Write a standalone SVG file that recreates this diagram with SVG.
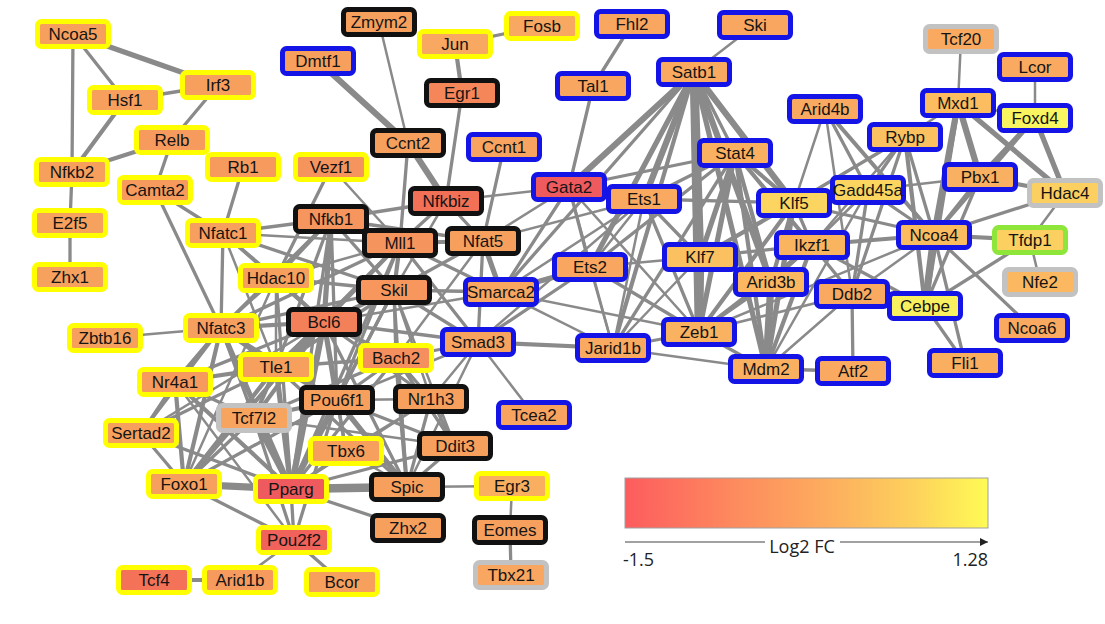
<svg xmlns="http://www.w3.org/2000/svg" width="1105" height="624" viewBox="0 0 1105 624">
<style>
.edges line{stroke:#8a8a8a;stroke-linecap:round}
.e2{stroke-width:2.5}.e3{stroke-width:3.3}.e4{stroke-width:4.2}.e5{stroke-width:5.2}.e6{stroke-width:6.2}.e7{stroke-width:7.2}.e8{stroke-width:8.5}
.n rect{stroke-width:5}
.y rect{stroke:#ffff00}.k rect{stroke:#111111}.b rect{stroke:#1414e6}.g rect{stroke:#c2c2c2}.gr rect{stroke:#8fe63a}
.n text{font-family:"Liberation Sans",Arial,sans-serif;font-size:17px;text-anchor:middle;fill:#151515}
.lg{font-family:"Open Sans","Liberation Sans",sans-serif;font-size:18px;fill:#222}
</style>
<defs>
<linearGradient id="fc" x1="0" y1="0" x2="1" y2="0">
<stop offset="0" stop-color="#fd5c5e"/>
<stop offset="0.3" stop-color="#fd8a5e"/>
<stop offset="0.55" stop-color="#fdac5e"/>
<stop offset="0.8" stop-color="#fdd25c"/>
<stop offset="1" stop-color="#fffb55"/>
</linearGradient>
<marker id="ah" viewBox="0 0 10 10" refX="10" refY="5" markerWidth="8" markerHeight="8" markerUnits="userSpaceOnUse" orient="auto"><path d="M0,0 L10,5 L0,10 z" fill="#222"/></marker>
</defs>
<rect width="1105" height="624" fill="#ffffff"/>
<g id="connectors" class="edges">
<line class="e5" x1="73" y1="34" x2="218" y2="85"/>
<line class="e3" x1="73" y1="34" x2="125" y2="100"/>
<line class="e3" x1="73" y1="34" x2="72" y2="172"/>
<line class="e3" x1="125" y1="100" x2="218" y2="85"/>
<line class="e4" x1="125" y1="100" x2="72" y2="172"/>
<line class="e3" x1="218" y1="85" x2="172" y2="140"/>
<line class="e4" x1="172" y1="140" x2="72" y2="172"/>
<line class="e3" x1="172" y1="140" x2="155" y2="190"/>
<line class="e3" x1="72" y1="172" x2="70" y2="223"/>
<line class="e3" x1="70" y1="223" x2="70" y2="277"/>
<line class="e3" x1="243" y1="167" x2="223" y2="233"/>
<line class="e3" x1="155" y1="190" x2="223" y2="233"/>
<line class="e3" x1="155" y1="190" x2="221" y2="328"/>
<line class="e3" x1="223" y1="233" x2="221" y2="328"/>
<line class="e2" x1="105" y1="338" x2="221" y2="328"/>
<line class="e4" x1="221" y1="328" x2="276" y2="367"/>
<line class="e4" x1="221" y1="328" x2="324" y2="322"/>
<line class="e5" x1="221" y1="328" x2="291" y2="489"/>
<line class="e4" x1="221" y1="328" x2="184" y2="484"/>
<line class="e4" x1="221" y1="328" x2="175" y2="382"/>
<line class="e3" x1="221" y1="328" x2="394" y2="290"/>
<line class="e3" x1="221" y1="328" x2="400" y2="243"/>
<line class="e3" x1="221" y1="328" x2="331" y2="219"/>
<line class="e2" x1="221" y1="328" x2="276" y2="278"/>
<line class="e3" x1="221" y1="328" x2="254" y2="418"/>
<line class="e3" x1="221" y1="328" x2="141" y2="433"/>
<line class="e3" x1="221" y1="328" x2="337" y2="400"/>
<line class="e3" x1="223" y1="233" x2="276" y2="278"/>
<line class="e3" x1="223" y1="233" x2="324" y2="322"/>
<line class="e3" x1="223" y1="233" x2="394" y2="290"/>
<line class="e3" x1="223" y1="233" x2="331" y2="219"/>
<line class="e2" x1="223" y1="233" x2="400" y2="243"/>
<line class="e2" x1="223" y1="233" x2="276" y2="367"/>
<line class="e3" x1="276" y1="278" x2="331" y2="219"/>
<line class="e4" x1="276" y1="278" x2="324" y2="322"/>
<line class="e3" x1="276" y1="278" x2="394" y2="290"/>
<line class="e2" x1="276" y1="278" x2="276" y2="367"/>
<line class="e3" x1="276" y1="278" x2="291" y2="489"/>
<line class="e2" x1="276" y1="278" x2="400" y2="243"/>
<line class="e3" x1="276" y1="278" x2="331" y2="167"/>
<line class="e2" x1="276" y1="278" x2="184" y2="484"/>
<line class="e2" x1="331" y1="167" x2="400" y2="243"/>
<line class="e4" x1="331" y1="219" x2="400" y2="243"/>
<line class="e5" x1="331" y1="219" x2="324" y2="322"/>
<line class="e3" x1="331" y1="219" x2="394" y2="290"/>
<line class="e3" x1="331" y1="219" x2="483" y2="241"/>
<line class="e3" x1="331" y1="219" x2="276" y2="367"/>
<line class="e3" x1="331" y1="219" x2="291" y2="489"/>
<line class="e3" x1="331" y1="219" x2="337" y2="400"/>
<line class="e3" x1="331" y1="219" x2="446" y2="201"/>
<line class="e4" x1="400" y1="243" x2="394" y2="290"/>
<line class="e4" x1="400" y1="243" x2="324" y2="322"/>
<line class="e4" x1="400" y1="243" x2="483" y2="241"/>
<line class="e3" x1="400" y1="243" x2="501" y2="292"/>
<line class="e3" x1="400" y1="243" x2="478" y2="342"/>
<line class="e3" x1="400" y1="243" x2="337" y2="400"/>
<line class="e3" x1="400" y1="243" x2="276" y2="367"/>
<line class="e3" x1="400" y1="243" x2="291" y2="489"/>
<line class="e3" x1="400" y1="243" x2="408" y2="143"/>
<line class="e3" x1="400" y1="243" x2="446" y2="201"/>
<line class="e5" x1="483" y1="241" x2="501" y2="292"/>
<line class="e3" x1="483" y1="241" x2="478" y2="342"/>
<line class="e3" x1="483" y1="241" x2="394" y2="290"/>
<line class="e2" x1="483" y1="241" x2="569" y2="187"/>
<line class="e2" x1="483" y1="241" x2="644" y2="199"/>
<line class="e3" x1="483" y1="241" x2="504" y2="147"/>
<line class="e3" x1="483" y1="241" x2="446" y2="201"/>
<line class="e2" x1="483" y1="241" x2="396" y2="358"/>
<line class="e4" x1="394" y1="290" x2="324" y2="322"/>
<line class="e3" x1="394" y1="290" x2="478" y2="342"/>
<line class="e3" x1="394" y1="290" x2="501" y2="292"/>
<line class="e3" x1="394" y1="290" x2="396" y2="358"/>
<line class="e3" x1="394" y1="290" x2="337" y2="400"/>
<line class="e3" x1="394" y1="290" x2="276" y2="367"/>
<line class="e3" x1="394" y1="290" x2="291" y2="489"/>
<line class="e2" x1="394" y1="290" x2="431" y2="399"/>
<line class="e2" x1="394" y1="290" x2="455" y2="446"/>
<line class="e2" x1="394" y1="290" x2="407" y2="487"/>
<line class="e2" x1="394" y1="290" x2="446" y2="201"/>
<line class="e5" x1="324" y1="322" x2="276" y2="367"/>
<line class="e6" x1="324" y1="322" x2="291" y2="489"/>
<line class="e5" x1="324" y1="322" x2="337" y2="400"/>
<line class="e4" x1="324" y1="322" x2="396" y2="358"/>
<line class="e4" x1="324" y1="322" x2="254" y2="418"/>
<line class="e4" x1="324" y1="322" x2="184" y2="484"/>
<line class="e3" x1="324" y1="322" x2="175" y2="382"/>
<line class="e3" x1="324" y1="322" x2="407" y2="487"/>
<line class="e3" x1="324" y1="322" x2="478" y2="342"/>
<line class="e3" x1="324" y1="322" x2="346" y2="451"/>
<line class="e3" x1="324" y1="322" x2="431" y2="399"/>
<line class="e2" x1="324" y1="322" x2="141" y2="433"/>
<line class="e2" x1="324" y1="322" x2="501" y2="292"/>
<line class="e5" x1="276" y1="367" x2="291" y2="489"/>
<line class="e4" x1="276" y1="367" x2="254" y2="418"/>
<line class="e4" x1="276" y1="367" x2="337" y2="400"/>
<line class="e4" x1="276" y1="367" x2="184" y2="484"/>
<line class="e4" x1="276" y1="367" x2="175" y2="382"/>
<line class="e3" x1="276" y1="367" x2="141" y2="433"/>
<line class="e3" x1="276" y1="367" x2="407" y2="487"/>
<line class="e3" x1="276" y1="367" x2="396" y2="358"/>
<line class="e3" x1="396" y1="358" x2="337" y2="400"/>
<line class="e3" x1="396" y1="358" x2="431" y2="399"/>
<line class="e4" x1="396" y1="358" x2="407" y2="487"/>
<line class="e3" x1="396" y1="358" x2="455" y2="446"/>
<line class="e3" x1="396" y1="358" x2="291" y2="489"/>
<line class="e3" x1="396" y1="358" x2="254" y2="418"/>
<line class="e3" x1="396" y1="358" x2="478" y2="342"/>
<line class="e6" x1="337" y1="400" x2="291" y2="489"/>
<line class="e5" x1="337" y1="400" x2="407" y2="487"/>
<line class="e3" x1="337" y1="400" x2="346" y2="451"/>
<line class="e4" x1="337" y1="400" x2="254" y2="418"/>
<line class="e3" x1="337" y1="400" x2="184" y2="484"/>
<line class="e3" x1="337" y1="400" x2="455" y2="446"/>
<line class="e2" x1="337" y1="400" x2="431" y2="399"/>
<line class="e3" x1="337" y1="400" x2="294" y2="540"/>
<line class="e2" x1="337" y1="400" x2="478" y2="342"/>
<line class="e3" x1="431" y1="399" x2="455" y2="446"/>
<line class="e3" x1="431" y1="399" x2="407" y2="487"/>
<line class="e2" x1="431" y1="399" x2="291" y2="489"/>
<line class="e2" x1="431" y1="399" x2="346" y2="451"/>
<line class="e2" x1="431" y1="399" x2="478" y2="342"/>
<line class="e3" x1="455" y1="446" x2="407" y2="487"/>
<line class="e3" x1="455" y1="446" x2="291" y2="489"/>
<line class="e2" x1="455" y1="446" x2="254" y2="418"/>
<line class="e8" x1="407" y1="487" x2="291" y2="489"/>
<line class="e2" x1="407" y1="487" x2="512" y2="486"/>
<line class="e2" x1="407" y1="487" x2="346" y2="451"/>
<line class="e2" x1="407" y1="487" x2="478" y2="342"/>
<line class="e7" x1="291" y1="489" x2="184" y2="484"/>
<line class="e5" x1="291" y1="489" x2="254" y2="418"/>
<line class="e4" x1="291" y1="489" x2="175" y2="382"/>
<line class="e3" x1="291" y1="489" x2="141" y2="433"/>
<line class="e3" x1="291" y1="489" x2="294" y2="540"/>
<line class="e3" x1="291" y1="489" x2="346" y2="451"/>
<line class="e3" x1="291" y1="489" x2="408" y2="528"/>
<line class="e3" x1="294" y1="540" x2="184" y2="484"/>
<line class="e3" x1="294" y1="540" x2="342" y2="582"/>
<line class="e2" x1="294" y1="540" x2="240" y2="580"/>
<line class="e3" x1="294" y1="540" x2="254" y2="418"/>
<line class="e2" x1="294" y1="540" x2="175" y2="382"/>
<line class="e4" x1="154" y1="580" x2="240" y2="580"/>
<line class="e3" x1="184" y1="484" x2="141" y2="433"/>
<line class="e4" x1="184" y1="484" x2="175" y2="382"/>
<line class="e3" x1="184" y1="484" x2="254" y2="418"/>
<line class="e3" x1="175" y1="382" x2="254" y2="418"/>
<line class="e2" x1="175" y1="382" x2="141" y2="433"/>
<line class="e2" x1="512" y1="486" x2="510" y2="530"/>
<line class="e3" x1="510" y1="530" x2="511" y2="575"/>
<line class="e2" x1="478" y1="342" x2="534" y2="415"/>
<line class="e2" x1="379" y1="22" x2="408" y2="143"/>
<line class="e6" x1="318" y1="61" x2="408" y2="143"/>
<line class="e6" x1="408" y1="143" x2="446" y2="201"/>
<line class="e4" x1="455" y1="44" x2="462" y2="93"/>
<line class="e3" x1="455" y1="44" x2="542" y2="26"/>
<line class="e3" x1="462" y1="93" x2="446" y2="201"/>
<line class="e2" x1="446" y1="201" x2="569" y2="187"/>
<line class="e3" x1="632" y1="24" x2="593" y2="86"/>
<line class="e3" x1="593" y1="86" x2="569" y2="187"/>
<line class="e2" x1="755" y1="25" x2="694" y2="72"/>
<line class="e6" x1="694" y1="72" x2="569" y2="187"/>
<line class="e6" x1="694" y1="72" x2="644" y2="199"/>
<line class="e5" x1="694" y1="72" x2="590" y2="267"/>
<line class="e8" x1="694" y1="72" x2="700" y2="257"/>
<line class="e8" x1="694" y1="72" x2="699" y2="332"/>
<line class="e6" x1="694" y1="72" x2="794" y2="203"/>
<line class="e6" x1="694" y1="72" x2="771" y2="282"/>
<line class="e4" x1="694" y1="72" x2="613" y2="348"/>
<line class="e3" x1="694" y1="72" x2="735" y2="153"/>
<line class="e5" x1="694" y1="72" x2="766" y2="369"/>
<line class="e3" x1="694" y1="72" x2="501" y2="292"/>
<line class="e3" x1="735" y1="153" x2="569" y2="187"/>
<line class="e3" x1="735" y1="153" x2="644" y2="199"/>
<line class="e5" x1="735" y1="153" x2="700" y2="257"/>
<line class="e5" x1="735" y1="153" x2="699" y2="332"/>
<line class="e4" x1="735" y1="153" x2="794" y2="203"/>
<line class="e4" x1="735" y1="153" x2="771" y2="282"/>
<line class="e4" x1="735" y1="153" x2="812" y2="245"/>
<line class="e3" x1="735" y1="153" x2="590" y2="267"/>
<line class="e4" x1="735" y1="153" x2="766" y2="369"/>
<line class="e3" x1="735" y1="153" x2="613" y2="348"/>
<line class="e3" x1="644" y1="199" x2="569" y2="187"/>
<line class="e3" x1="644" y1="199" x2="700" y2="257"/>
<line class="e3" x1="644" y1="199" x2="699" y2="332"/>
<line class="e2" x1="644" y1="199" x2="590" y2="267"/>
<line class="e2" x1="644" y1="199" x2="613" y2="348"/>
<line class="e2" x1="644" y1="199" x2="501" y2="292"/>
<line class="e2" x1="644" y1="199" x2="478" y2="342"/>
<line class="e3" x1="644" y1="199" x2="794" y2="203"/>
<line class="e3" x1="569" y1="187" x2="590" y2="267"/>
<line class="e3" x1="569" y1="187" x2="501" y2="292"/>
<line class="e2" x1="569" y1="187" x2="613" y2="348"/>
<line class="e2" x1="569" y1="187" x2="699" y2="332"/>
<line class="e3" x1="590" y1="267" x2="699" y2="332"/>
<line class="e2" x1="590" y1="267" x2="613" y2="348"/>
<line class="e2" x1="590" y1="267" x2="700" y2="257"/>
<line class="e3" x1="590" y1="267" x2="478" y2="342"/>
<line class="e5" x1="590" y1="267" x2="501" y2="292"/>
<line class="e4" x1="478" y1="342" x2="613" y2="348"/>
<line class="e2" x1="501" y1="292" x2="699" y2="332"/>
<line class="e2" x1="501" y1="292" x2="613" y2="348"/>
<line class="e8" x1="700" y1="257" x2="699" y2="332"/>
<line class="e4" x1="700" y1="257" x2="794" y2="203"/>
<line class="e3" x1="700" y1="257" x2="812" y2="245"/>
<line class="e2" x1="700" y1="257" x2="613" y2="348"/>
<line class="e4" x1="794" y1="203" x2="699" y2="332"/>
<line class="e4" x1="794" y1="203" x2="771" y2="282"/>
<line class="e3" x1="794" y1="203" x2="812" y2="245"/>
<line class="e5" x1="794" y1="203" x2="766" y2="369"/>
<line class="e3" x1="794" y1="203" x2="934" y2="235"/>
<line class="e3" x1="794" y1="203" x2="868" y2="190"/>
<line class="e2" x1="794" y1="203" x2="825" y2="109"/>
<line class="e3" x1="794" y1="203" x2="905" y2="137"/>
<line class="e7" x1="771" y1="282" x2="766" y2="369"/>
<line class="e3" x1="771" y1="282" x2="699" y2="332"/>
<line class="e3" x1="771" y1="282" x2="812" y2="245"/>
<line class="e4" x1="812" y1="245" x2="766" y2="369"/>
<line class="e4" x1="812" y1="245" x2="934" y2="235"/>
<line class="e3" x1="812" y1="245" x2="852" y2="294"/>
<line class="e3" x1="812" y1="245" x2="925" y2="306"/>
<line class="e3" x1="812" y1="245" x2="699" y2="332"/>
<line class="e2" x1="812" y1="245" x2="868" y2="190"/>
<line class="e2" x1="812" y1="245" x2="905" y2="137"/>
<line class="e3" x1="699" y1="332" x2="613" y2="348"/>
<line class="e3" x1="699" y1="332" x2="766" y2="369"/>
<line class="e2" x1="699" y1="332" x2="934" y2="235"/>
<line class="e2" x1="699" y1="332" x2="852" y2="294"/>
<line class="e2" x1="766" y1="369" x2="613" y2="348"/>
<line class="e3" x1="766" y1="369" x2="853" y2="371"/>
<line class="e2" x1="766" y1="369" x2="852" y2="294"/>
<line class="e2" x1="766" y1="369" x2="868" y2="190"/>
<line class="e3" x1="852" y1="294" x2="853" y2="371"/>
<line class="e2" x1="852" y1="294" x2="934" y2="235"/>
<line class="e3" x1="852" y1="294" x2="868" y2="190"/>
<line class="e3" x1="852" y1="294" x2="905" y2="137"/>
<line class="e3" x1="868" y1="190" x2="825" y2="109"/>
<line class="e3" x1="868" y1="190" x2="905" y2="137"/>
<line class="e3" x1="868" y1="190" x2="934" y2="235"/>
<line class="e2" x1="868" y1="190" x2="980" y2="177"/>
<line class="e3" x1="905" y1="137" x2="934" y2="235"/>
<line class="e4" x1="905" y1="137" x2="925" y2="306"/>
<line class="e2" x1="905" y1="137" x2="958" y2="103"/>
<line class="e4" x1="825" y1="109" x2="934" y2="235"/>
<line class="e2" x1="825" y1="109" x2="852" y2="294"/>
<line class="e2" x1="958" y1="103" x2="961" y2="39"/>
<line class="e6" x1="958" y1="103" x2="980" y2="177"/>
<line class="e6" x1="958" y1="103" x2="934" y2="235"/>
<line class="e5" x1="958" y1="103" x2="925" y2="306"/>
<line class="e5" x1="958" y1="103" x2="1065" y2="193"/>
<line class="e2" x1="958" y1="103" x2="1035" y2="118"/>
<line class="e2" x1="1035" y1="118" x2="1035" y2="67"/>
<line class="e5" x1="1035" y1="118" x2="1065" y2="193"/>
<line class="e5" x1="1035" y1="118" x2="980" y2="177"/>
<line class="e4" x1="1035" y1="118" x2="934" y2="235"/>
<line class="e4" x1="980" y1="177" x2="1065" y2="193"/>
<line class="e3" x1="980" y1="177" x2="934" y2="235"/>
<line class="e3" x1="980" y1="177" x2="925" y2="306"/>
<line class="e7" x1="934" y1="235" x2="925" y2="306"/>
<line class="e4" x1="934" y1="235" x2="1030" y2="240"/>
<line class="e3" x1="934" y1="235" x2="1065" y2="193"/>
<line class="e3" x1="934" y1="235" x2="1032" y2="328"/>
<line class="e3" x1="934" y1="235" x2="965" y2="363"/>
<line class="e2" x1="1030" y1="240" x2="1040" y2="282"/>
<line class="e2" x1="1030" y1="240" x2="1065" y2="193"/>
<line class="e3" x1="1030" y1="240" x2="925" y2="306"/>
<line class="e3" x1="925" y1="306" x2="965" y2="363"/>
<line class="e2" x1="925" y1="306" x2="852" y2="294"/>
</g>
<g id="n-Ncoa5" class="n y"><rect x="37.5" y="21.5" width="71" height="25" rx="4" fill="#f7a05e"/><text x="73" y="40">Ncoa5</text></g>
<g id="n-Hsf1" class="n y"><rect x="89.5" y="87.5" width="71" height="25" rx="4" fill="#f7a05e"/><text x="125" y="106">Hsf1</text></g>
<g id="n-Irf3" class="n y"><rect x="182.5" y="72.5" width="71" height="25" rx="4" fill="#f7a05e"/><text x="218" y="91">Irf3</text></g>
<g id="n-Relb" class="n y"><rect x="136.5" y="127.5" width="71" height="25" rx="4" fill="#f79a5e"/><text x="172" y="146">Relb</text></g>
<g id="n-Rb1" class="n y"><rect x="207.5" y="154.5" width="71" height="25" rx="4" fill="#f79a5e"/><text x="243" y="173">Rb1</text></g>
<g id="n-Nfkb2" class="n y"><rect x="36.5" y="159.5" width="71" height="25" rx="4" fill="#f7a05e"/><text x="72" y="178">Nfkb2</text></g>
<g id="n-Camta2" class="n y"><rect x="119.5" y="177.5" width="71" height="25" rx="4" fill="#f79a5e"/><text x="155" y="196">Camta2</text></g>
<g id="n-E2f5" class="n y"><rect x="34.5" y="210.5" width="71" height="25" rx="4" fill="#f7a15f"/><text x="70" y="229">E2f5</text></g>
<g id="n-Zhx1" class="n y"><rect x="34.5" y="264.5" width="71" height="25" rx="4" fill="#f7a15f"/><text x="70" y="283">Zhx1</text></g>
<g id="n-Nfatc1" class="n y"><rect x="187.5" y="220.5" width="71" height="25" rx="4" fill="#f79f5e"/><text x="223" y="239">Nfatc1</text></g>
<g id="n-Vezf1" class="n y"><rect x="295.5" y="154.5" width="71" height="25" rx="4" fill="#f6945e"/><text x="331" y="173">Vezf1</text></g>
<g id="n-Zmym2" class="n k"><rect x="343.5" y="9.5" width="71" height="25" rx="4" fill="#f7a05e"/><text x="379" y="28">Zmym2</text></g>
<g id="n-Dmtf1" class="n b"><rect x="282.5" y="48.5" width="71" height="25" rx="4" fill="#f7a05e"/><text x="318" y="67">Dmtf1</text></g>
<g id="n-Jun" class="n y"><rect x="419.5" y="31.5" width="71" height="25" rx="4" fill="#f8a860"/><text x="455" y="50">Jun</text></g>
<g id="n-Fosb" class="n y"><rect x="506.5" y="13.5" width="71" height="25" rx="4" fill="#f8a860"/><text x="542" y="32">Fosb</text></g>
<g id="n-Egr1" class="n k"><rect x="426.5" y="80.5" width="71" height="25" rx="4" fill="#f5865a"/><text x="462" y="99">Egr1</text></g>
<g id="n-Ccnt2" class="n k"><rect x="372.5" y="130.5" width="71" height="25" rx="4" fill="#f7a05e"/><text x="408" y="149">Ccnt2</text></g>
<g id="n-Ccnt1" class="n b"><rect x="468.5" y="134.5" width="71" height="25" rx="4" fill="#f8a460"/><text x="504" y="153">Ccnt1</text></g>
<g id="n-Nfkbiz" class="n k"><rect x="410.5" y="188.5" width="71" height="25" rx="4" fill="#f27055"/><text x="446" y="207">Nfkbiz</text></g>
<g id="n-Nfkb1" class="n k"><rect x="295.5" y="206.5" width="71" height="25" rx="4" fill="#f7955e"/><text x="331" y="225">Nfkb1</text></g>
<g id="n-Mll1" class="n k"><rect x="364.5" y="230.5" width="71" height="25" rx="4" fill="#f6945e"/><text x="400" y="249">Mll1</text></g>
<g id="n-Nfat5" class="n k"><rect x="447.5" y="228.5" width="71" height="25" rx="4" fill="#f7a05e"/><text x="483" y="247">Nfat5</text></g>
<g id="n-Hdac10" class="n y"><rect x="240.5" y="265.5" width="71" height="25" rx="4" fill="#f7a05e"/><text x="276" y="284">Hdac10</text></g>
<g id="n-Skil" class="n k"><rect x="358.5" y="277.5" width="71" height="25" rx="4" fill="#f7975e"/><text x="394" y="296">Skil</text></g>
<g id="n-Smarca2" class="n b"><rect x="465.5" y="279.5" width="71" height="25" rx="4" fill="#f8a660"/><text x="501" y="298">Smarca2</text></g>
<g id="n-Nfatc3" class="n y"><rect x="185.5" y="315.5" width="71" height="25" rx="4" fill="#f79f5e"/><text x="221" y="334">Nfatc3</text></g>
<g id="n-Zbtb16" class="n y"><rect x="69.5" y="325.5" width="71" height="25" rx="4" fill="#f7a05e"/><text x="105" y="344">Zbtb16</text></g>
<g id="n-Bcl6" class="n k"><rect x="288.5" y="309.5" width="71" height="25" rx="4" fill="#f4805a"/><text x="324" y="328">Bcl6</text></g>
<g id="n-Smad3" class="n b"><rect x="442.5" y="329.5" width="71" height="25" rx="4" fill="#f8a260"/><text x="478" y="348">Smad3</text></g>
<g id="n-Bach2" class="n y"><rect x="360.5" y="345.5" width="71" height="25" rx="4" fill="#f5905e"/><text x="396" y="364">Bach2</text></g>
<g id="n-Tle1" class="n y"><rect x="240.5" y="354.5" width="71" height="25" rx="4" fill="#f7a05e"/><text x="276" y="373">Tle1</text></g>
<g id="n-Nr4a1" class="n y"><rect x="139.5" y="369.5" width="71" height="25" rx="4" fill="#f69a5e"/><text x="175" y="388">Nr4a1</text></g>
<g id="n-Pou6f1" class="n k"><rect x="301.5" y="387.5" width="71" height="25" rx="4" fill="#f7a05e"/><text x="337" y="406">Pou6f1</text></g>
<g id="n-Nr1h3" class="n k"><rect x="395.5" y="386.5" width="71" height="25" rx="4" fill="#f7a05e"/><text x="431" y="405">Nr1h3</text></g>
<g id="n-Tcea2" class="n b"><rect x="498.5" y="402.5" width="71" height="25" rx="4" fill="#f8a460"/><text x="534" y="421">Tcea2</text></g>
<g id="n-Tcf7l2" class="n g"><rect x="218.5" y="405.5" width="71" height="25" rx="4" fill="#f7a45e"/><text x="254" y="424">Tcf7l2</text></g>
<g id="n-Sertad2" class="n y"><rect x="105.5" y="420.5" width="71" height="25" rx="4" fill="#f7a05e"/><text x="141" y="439">Sertad2</text></g>
<g id="n-Ddit3" class="n k"><rect x="419.5" y="433.5" width="71" height="25" rx="4" fill="#f7a05e"/><text x="455" y="452">Ddit3</text></g>
<g id="n-Tbx6" class="n y"><rect x="310.5" y="438.5" width="71" height="25" rx="4" fill="#f7a05e"/><text x="346" y="457">Tbx6</text></g>
<g id="n-Foxo1" class="n y"><rect x="148.5" y="471.5" width="71" height="25" rx="4" fill="#f7a05e"/><text x="184" y="490">Foxo1</text></g>
<g id="n-Pparg" class="n y"><rect x="255.5" y="476.5" width="71" height="25" rx="4" fill="#ee5a5d"/><text x="291" y="495">Pparg</text></g>
<g id="n-Spic" class="n k"><rect x="371.5" y="474.5" width="71" height="25" rx="4" fill="#f7a05e"/><text x="407" y="493">Spic</text></g>
<g id="n-Egr3" class="n y"><rect x="476.5" y="473.5" width="71" height="25" rx="4" fill="#f9ae60"/><text x="512" y="492">Egr3</text></g>
<g id="n-Zhx2" class="n k"><rect x="372.5" y="515.5" width="71" height="25" rx="4" fill="#f7a05e"/><text x="408" y="534">Zhx2</text></g>
<g id="n-Eomes" class="n k"><rect x="474.5" y="517.5" width="71" height="25" rx="4" fill="#f7a05e"/><text x="510" y="536">Eomes</text></g>
<g id="n-Pou2f2" class="n y"><rect x="258.5" y="527.5" width="71" height="25" rx="4" fill="#f0625a"/><text x="294" y="546">Pou2f2</text></g>
<g id="n-Tbx21" class="n g"><rect x="475.5" y="562.5" width="71" height="25" rx="4" fill="#f8a660"/><text x="511" y="581">Tbx21</text></g>
<g id="n-Tcf4" class="n y"><rect x="118.5" y="567.5" width="71" height="25" rx="4" fill="#f47258"/><text x="154" y="586">Tcf4</text></g>
<g id="n-Arid1b" class="n y"><rect x="204.5" y="567.5" width="71" height="25" rx="4" fill="#f79a5e"/><text x="240" y="586">Arid1b</text></g>
<g id="n-Bcor" class="n y"><rect x="306.5" y="569.5" width="71" height="25" rx="4" fill="#f7a05e"/><text x="342" y="588">Bcor</text></g>
<g id="n-Fhl2" class="n b"><rect x="596.5" y="11.5" width="71" height="25" rx="4" fill="#f8a660"/><text x="632" y="30">Fhl2</text></g>
<g id="n-Ski" class="n b"><rect x="719.5" y="12.5" width="71" height="25" rx="4" fill="#f8a660"/><text x="755" y="31">Ski</text></g>
<g id="n-Satb1" class="n b"><rect x="658.5" y="59.5" width="71" height="25" rx="4" fill="#f9aa60"/><text x="694" y="78">Satb1</text></g>
<g id="n-Tal1" class="n b"><rect x="557.5" y="73.5" width="71" height="25" rx="4" fill="#f8a660"/><text x="593" y="92">Tal1</text></g>
<g id="n-Stat4" class="n b"><rect x="699.5" y="140.5" width="71" height="25" rx="4" fill="#f9b060"/><text x="735" y="159">Stat4</text></g>
<g id="n-Gata2" class="n b"><rect x="533.5" y="174.5" width="71" height="25" rx="4" fill="#ee5a5e"/><text x="569" y="193">Gata2</text></g>
<g id="n-Ets1" class="n b"><rect x="608.5" y="186.5" width="71" height="25" rx="4" fill="#f9aa60"/><text x="644" y="205">Ets1</text></g>
<g id="n-Klf5" class="n b"><rect x="758.5" y="190.5" width="71" height="25" rx="4" fill="#fcd560"/><text x="794" y="209">Klf5</text></g>
<g id="n-Ets2" class="n b"><rect x="554.5" y="254.5" width="71" height="25" rx="4" fill="#f8a660"/><text x="590" y="273">Ets2</text></g>
<g id="n-Klf7" class="n b"><rect x="664.5" y="244.5" width="71" height="25" rx="4" fill="#fbc060"/><text x="700" y="263">Klf7</text></g>
<g id="n-Arid3b" class="n b"><rect x="735.5" y="269.5" width="71" height="25" rx="4" fill="#fbb860"/><text x="771" y="288">Arid3b</text></g>
<g id="n-Ikzf1" class="n b"><rect x="776.5" y="232.5" width="71" height="25" rx="4" fill="#fab460"/><text x="812" y="251">Ikzf1</text></g>
<g id="n-Zeb1" class="n b"><rect x="663.5" y="319.5" width="71" height="25" rx="4" fill="#f9b260"/><text x="699" y="338">Zeb1</text></g>
<g id="n-Jarid1b" class="n b"><rect x="577.5" y="335.5" width="71" height="25" rx="4" fill="#f9aa60"/><text x="613" y="354">Jarid1b</text></g>
<g id="n-Mdm2" class="n b"><rect x="730.5" y="356.5" width="71" height="25" rx="4" fill="#f9b060"/><text x="766" y="375">Mdm2</text></g>
<g id="n-Atf2" class="n b"><rect x="817.5" y="358.5" width="71" height="25" rx="4" fill="#f9aa60"/><text x="853" y="377">Atf2</text></g>
<g id="n-Ddb2" class="n b"><rect x="816.5" y="281.5" width="71" height="25" rx="4" fill="#f9aa60"/><text x="852" y="300">Ddb2</text></g>
<g id="n-Cebpe" class="n b"><rect x="889.5" y="293.5" width="71" height="25" rx="4" fill="#f9f060"/><text x="925" y="312">Cebpe</text></g>
<g id="n-Ncoa4" class="n b"><rect x="898.5" y="222.5" width="71" height="25" rx="4" fill="#fbbc60"/><text x="934" y="241">Ncoa4</text></g>
<g id="n-Tfdp1" class="n gr"><rect x="994.5" y="227.5" width="71" height="25" rx="4" fill="#fbd060"/><text x="1030" y="246">Tfdp1</text></g>
<g id="n-Nfe2" class="n g"><rect x="1004.5" y="269.5" width="71" height="25" rx="4" fill="#fbb860"/><text x="1040" y="288">Nfe2</text></g>
<g id="n-Ncoa6" class="n b"><rect x="996.5" y="315.5" width="71" height="25" rx="4" fill="#f9aa60"/><text x="1032" y="334">Ncoa6</text></g>
<g id="n-Fli1" class="n b"><rect x="929.5" y="350.5" width="71" height="25" rx="4" fill="#f9ae60"/><text x="965" y="369">Fli1</text></g>
<g id="n-Tcf20" class="n g"><rect x="925.5" y="26.5" width="71" height="25" rx="4" fill="#f9aa60"/><text x="961" y="45">Tcf20</text></g>
<g id="n-Lcor" class="n b"><rect x="999.5" y="54.5" width="71" height="25" rx="4" fill="#f9aa60"/><text x="1035" y="73">Lcor</text></g>
<g id="n-Mxd1" class="n b"><rect x="922.5" y="90.5" width="71" height="25" rx="4" fill="#fbbd60"/><text x="958" y="109">Mxd1</text></g>
<g id="n-Foxd4" class="n b"><rect x="999.5" y="105.5" width="71" height="25" rx="4" fill="#f9f560"/><text x="1035" y="124">Foxd4</text></g>
<g id="n-Arid4b" class="n b"><rect x="789.5" y="96.5" width="71" height="25" rx="4" fill="#f9aa60"/><text x="825" y="115">Arid4b</text></g>
<g id="n-Rybp" class="n b"><rect x="869.5" y="124.5" width="71" height="25" rx="4" fill="#fbc060"/><text x="905" y="143">Rybp</text></g>
<g id="n-Pbx1" class="n b"><rect x="944.5" y="164.5" width="71" height="25" rx="4" fill="#f9b060"/><text x="980" y="183">Pbx1</text></g>
<g id="n-Hdac4" class="n g"><rect x="1029.5" y="180.5" width="71" height="25" rx="4" fill="#fbd060"/><text x="1065" y="199">Hdac4</text></g>
<g id="n-Gadd45a" class="n b"><rect x="832.5" y="177.5" width="71" height="25" rx="4" fill="#fbd560"/><text x="868" y="196">Gadd45a</text></g>
<g id="legend">
<rect x="625" y="478" width="363" height="50" fill="url(#fc)" stroke="#a0a0a0" stroke-width="1"/>
<line x1="625" y1="542" x2="765" y2="542" stroke="#444" stroke-width="1.2"/>
<line x1="840" y1="542" x2="988" y2="542" stroke="#444" stroke-width="1.2" marker-end="url(#ah)"/>
<text class="lg" x="802" y="553" text-anchor="middle">Log2 FC</text>
<text class="lg" x="623" y="566">-1.5</text>
<text class="lg" x="988" y="566" text-anchor="end">1.28</text>
</g>
</svg>
